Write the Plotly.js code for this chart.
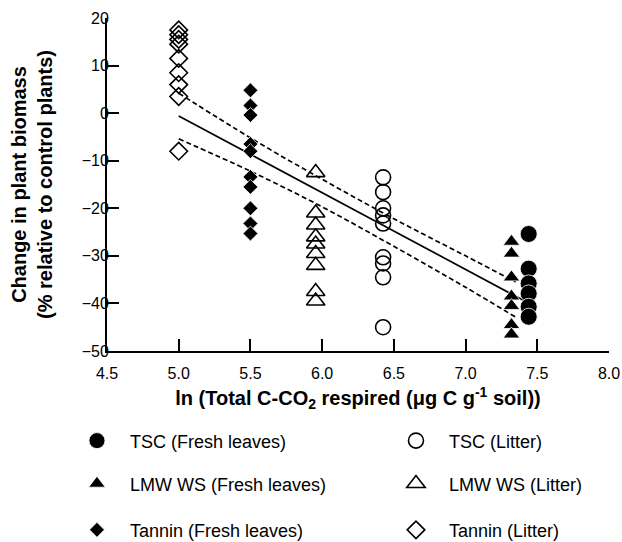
<!DOCTYPE html>
<html><head><meta charset="utf-8">
<script src="https://cdn.plot.ly/plotly-3.0.1.min.js"></script>
<style>html,body{margin:0;padding:0;background:#fff}</style>
</head><body>
<div id="chart" style="width:622px;height:542px"></div>
<script>
// ---- data ----
const tscFreshX = 7.44;
const tscFreshY = [-25.4, -32.7, -35.8, -37.9, -40.7, -42.8];
const tscLitterX = 6.425;
const tscLitterY = [-13.5, -16.6, -20.0, -21.5, -23.2, -30.3, -31.6, -34.5, -45.0];
const lmwFreshX = 7.32;
const lmwFreshY = [-27.0, -29.5, -34.5, -38.5, -40.5, -44.5, -46.5];
const lmwLitterX = 5.955;
const lmwLitterY = [-12.5, -21.0, -23.5, -26.0, -27.5, -29.5, -32.0, -37.5, -39.5];
const tanFreshX = 5.5;
const tanFreshY = [4.8, 1.6, -0.4, -6.5, -8.0, -13.4, -15.5, -20.0, -23.2, -25.3];
const tanLitterX = 5.0;
const tanLitterY = [17.5, 16.5, 15.5, 14.5, 11.5, 8.5, 6.0, 3.5, -8.0];

const fitX = [5.0, 7.4];
const fitY = [-0.6, -39.3];
const bandX = [5.0, 5.5, 6.0, 6.5, 7.0, 7.35];
const bandUpper = [4.2, -5.2, -13.9, -22.2, -30.0, -35.5];
const bandLower = [-5.4, -12.2, -19.7, -28.0, -36.6, -42.9];

const xTicks = [4.5, 5.0, 5.5, 6.0, 6.5, 7.0, 7.5, 8.0];
const xTickText = ['4.5', '5.0', '5.5', '6.0', '6.5', '7.0', '7.5', '8.0'];
const yTicks = [20, 10, 0, -10, -20, -30, -40, -50];

const names = ['TSC (Fresh leaves)', 'TSC (Litter)', 'LMW WS (Fresh leaves)',
               'LMW WS (Litter)', 'Tannin (Fresh leaves)', 'Tannin (Litter)'];

const FONT = 'Liberation Sans, Arial, Helvetica, sans-serif';
const rep = (arr, v) => arr.map(() => v);

function pts(x, y, name, symbol, size, filled, legend, rank) {
  return {
    type: 'scatter', mode: 'markers', x: rep(y, x), y: y, name: name,
    legend: legend, legendrank: rank, legendwidth: rank === 1 ? 248 : 140,
    cliponaxis: false,
    marker: {
      symbol: symbol, size: size,
      color: filled ? '#000' : 'rgba(255,255,255,0)',
      line: {color: filled ? '#fff' : '#000', width: filled ? 0.8 : 1.6}
    }
  };
}

const traces = [
  {type: 'scatter', mode: 'lines', x: fitX, y: fitY, showlegend: false,
   line: {color: '#000', width: 1.7}, hoverinfo: 'skip'},
  {type: 'scatter', mode: 'lines', x: bandX, y: bandUpper, showlegend: false,
   line: {color: '#000', width: 1.7, dash: '5px,3px', shape: 'spline'}, hoverinfo: 'skip'},
  {type: 'scatter', mode: 'lines', x: bandX, y: bandLower, showlegend: false,
   line: {color: '#000', width: 1.7, dash: '5px,3px', shape: 'spline'}, hoverinfo: 'skip'},
  pts(tanLitterX, tanLitterY, names[5], 'diamond', 13.5, false, 'legend3', 2),
  pts(tanFreshX, tanFreshY, names[4], 'diamond', 11.5, true, 'legend3', 1),
  pts(lmwLitterX, lmwLitterY, names[3], 'triangle-up', 16, false, 'legend2', 2),
  pts(tscLitterX, tscLitterY, names[1], 'circle', 15, false, 'legend', 2),
  pts(lmwFreshX, lmwFreshY, names[2], 'triangle-up', 14.5, true, 'legend2', 1),
  pts(tscFreshX, tscFreshY, names[0], 'circle', 17, true, 'legend', 1)
];

const legBase = {
  orientation: 'h', xanchor: 'left', yanchor: 'middle', x: -0.0857,
  itemwidth: 56, bgcolor: 'rgba(0,0,0,0)',
  font: {family: FONT, size: 18, color: '#000'}, traceorder: 'normal'
};

const layout = {
  width: 622, height: 542,
  margin: {l: 107, r: 13, t: 18, b: 191, pad: 0, autoexpand: false},
  paper_bgcolor: '#fff', plot_bgcolor: '#fff',
  font: {family: FONT, size: 16, color: '#000'},
  showlegend: true,
  legend: Object.assign({}, legBase, {y: -0.270}),
  legend2: Object.assign({}, legBase, {y: -0.399}),
  legend3: Object.assign({}, legBase, {y: -0.538}),
  xaxis: {
    range: [4.5, 8.0], tickvals: xTicks, ticktext: xTickText,
    showgrid: false, zeroline: false, showline: true, linecolor: '#000', linewidth: 2,
    ticks: 'inside', ticklen: 12, tickwidth: 2, tickcolor: '#000', ticklabelstandoff: 7,
    tickfont: {family: FONT, size: 16, color: '#000'}, automargin: false,
    title: {text: 'ln (Total C-CO<sub>2</sub> respired (μg C g<sup>-1</sup> soil))',
            font: {family: FONT, size: 20, color: '#000', weight: 'bold'}, standoff: 10}
  },
  yaxis: {
    range: [-50, 20], tickvals: yTicks,
    showgrid: false, zeroline: false, showline: true, linecolor: '#000', linewidth: 2,
    ticks: 'inside', ticklen: 12, tickwidth: 2, tickcolor: '#000', ticklabelstandoff: -7,
    tickfont: {family: FONT, size: 16, color: '#000'}, automargin: false,
    title: {text: 'Change in plant biomass<br>(% relative to control plants)',
            font: {family: FONT, size: 20, color: '#000', weight: 'bold'}, standoff: 24}
  }
};

Plotly.newPlot('chart', traces, layout, {displayModeBar: false, staticPlot: true});
</script>
</body></html>
